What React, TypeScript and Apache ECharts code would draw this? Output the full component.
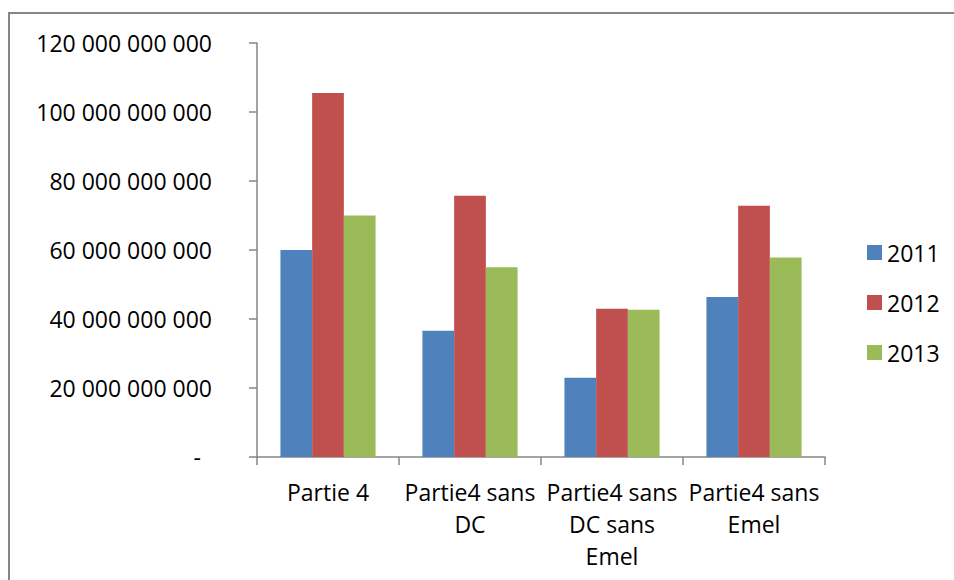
import React, { useEffect, useRef } from "react";
import * as echarts from "echarts";

const categories = [
  "Partie 4",
  "Partie4 sans\nDC",
  "Partie4 sans\nDC sans\nEmel",
  "Partie4 sans\nEmel",
];
const seriesNames = ["2011", "2012", "2013"];
const values2011 = [60.0e9, 36.6e9, 23.0e9, 46.4e9];
const values2012 = [105.5e9, 75.7e9, 43.0e9, 72.8e9];
const values2013 = [70.0e9, 55.0e9, 42.7e9, 57.8e9];
const colors = ["#4F81BD", "#C0504D", "#9BBB59"];

const FONT = "Open Sans";
const FS = 23;

function fmt(v: number): string {
  if (v === 0) return "{z|-}";
  const s = Math.round(v).toString();
  return s.replace(/\B(?=(\d{3})+(?!\d))/g, " ");
}

export default function App() {
  const ref = useRef<HTMLDivElement>(null);
  useEffect(() => {
    if (!ref.current) return;
    const chart = echarts.init(ref.current, null, { renderer: "svg" });
    const data = [values2011, values2012, values2013];
    chart.setOption({
      animation: false,
      backgroundColor: "#ffffff",
      textStyle: { fontFamily: FONT, color: "#000" },
      graphic: [
        {
          type: "rect",
          shape: { x: 9, y: 13, width: 1200, height: 1000 },
          style: { fill: "none", stroke: "#868686", lineWidth: 2 },
          silent: true,
        },
      ],
      grid: { left: 257, right: 129, top: 43, bottom: 123, containLabel: false },
      legend: {
        orient: "vertical",
        left: 867,
        top: 241,
        padding: 0,
        itemWidth: 15,
        itemHeight: 15,
        itemGap: 27,
        icon: "rect",
        data: seriesNames,
        textStyle: { fontFamily: FONT, fontSize: FS, color: "#000", lineHeight: 22 },
      },
      xAxis: {
        type: "category",
        data: categories,
        axisLine: { lineStyle: { color: "#868686", width: 1.5 } },
        axisTick: { show: true, length: 8, lineStyle: { color: "#868686", width: 1.5 } },
        axisLabel: {
          interval: 0,
          fontFamily: FONT,
          fontSize: FS,
          lineHeight: 32,
          color: "#000",
          margin: 19,
        },
      },
      yAxis: {
        type: "value",
        min: 0,
        max: 120e9,
        interval: 20e9,
        splitLine: { show: false },
        axisLine: { show: true, lineStyle: { color: "#868686", width: 1.5 } },
        axisTick: { show: true, length: 8, lineStyle: { color: "#868686", width: 1.5 } },
        axisLabel: {
          fontFamily: FONT,
          fontSize: FS,
          color: "#000",
          margin: 45,
          formatter: fmt,
          rich: { z: { fontFamily: FONT, fontSize: FS, color: "#000", padding: [0, 11, 0, 0] } },
        },
      },
      series: seriesNames.map((n, i) => ({
        name: n,
        type: "bar",
        data: data[i],
        barGap: "0%",
        barCategoryGap: "33%",
        itemStyle: { color: colors[i] },
      })),
    });
    return () => chart.dispose();
  }, []);
  return (
    <div
      ref={ref}
      style={{ position: "fixed", left: 0, top: 0, width: 954, height: 580 }}
    />
  );
}
